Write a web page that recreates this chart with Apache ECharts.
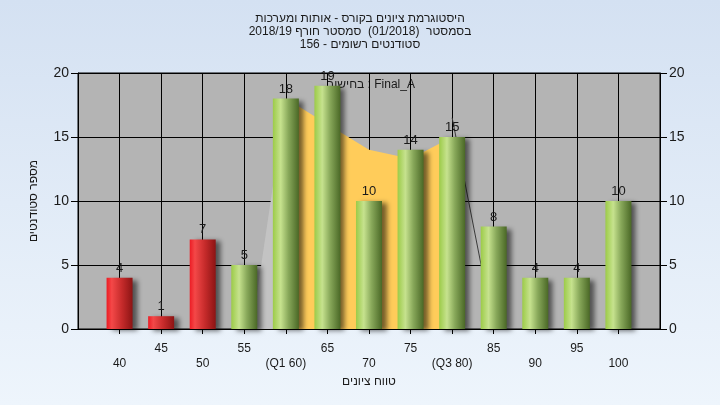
<!DOCTYPE html>
<html>
<head>
<meta charset="utf-8">
<script src="https://cdn.jsdelivr.net/npm/echarts@6/dist/echarts.min.js"></script>
<style>html,body{margin:0;padding:0;}#c{width:720px;height:405px;}</style>
</head>
<body>
<div id="c"></div>
<script>
// ---- data ----
var grades = [40, 45, 50, 55, 60, 65, 70, 75, 80, 85, 90, 95, 100];
var counts = [4, 1, 7, 5, 18, 19, 10, 14, 15, 8, 4, 4, 10];
var failing = [true, true, true, false, false, false, false, false, false, false, false, false, false];
var tickLabels = {40:'40',45:'45',50:'50',55:'55',60:'(Q1 60)',65:'65',70:'70',75:'75',80:'(Q3 80)',85:'85',90:'90',95:'95',100:'100'};
var leftShadeX = [55.9, 60];
var leftShadeY = [0, 18];
var iqrX = [60, 65, 70, 75, 80];
var iqrY = [18, 16, 14, 13.3, 15];
var tailX = [80, 85];
var tailY = [16.5, 0];
var titleLines = ['היסטוגרמת ציונים בקורס - אותות ומערכות', 'בסמסטר  (01/2018)  סמסטר חורף 2018/19', 'סטודנטים רשומים - 156'];
var legendText = 'בחישוב : Final_A';
var xName = 'טווח ציונים';
var yName = 'מספר סטודנטים';

var font = "'Liberation Sans', Arial, sans-serif";
function pairs(xs, ys){ return xs.map(function(x,i){ return [x, ys[i]]; }); }

var greenGrad = {type:'linear',x:0,y:0,x2:1,y2:0,colorStops:[
  {offset:0,color:'#9ccb48'},{offset:0.3,color:'#c6e28e'},{offset:0.6,color:'#88a85a'},{offset:1,color:'#4a6826'}]};
var redGrad = {type:'linear',x:0,y:0,x2:1,y2:0,colorStops:[
  {offset:0,color:'#ec1c24'},{offset:0.2,color:'#f44848'},{offset:0.6,color:'#c42a2a'},{offset:1,color:'#8c1414'}]};

var barData = grades.map(function(g,i){
  return {value:[g, counts[i]], itemStyle:{color: failing[i] ? redGrad : greenGrad}};
});

var chart = echarts.init(document.getElementById('c'), null, {renderer:'canvas'});
chart.setOption({
  animation:false,
  backgroundColor:{type:'linear',x:0,y:0,x2:0,y2:1,colorStops:[{offset:0,color:'#d4e1f2'},{offset:1,color:'#eef5fc'}]},
  textStyle:{fontFamily:font},
  title:{
    text: titleLines.join('\n'),
    left:'center', top:7,
    textStyle:{fontFamily:font, fontSize:12, fontWeight:'normal', color:'#1a1a1a', lineHeight:13}
  },
  graphic:[{type:'text', left:327, top:79, style:{text:legendText, font:"12px "+font, fill:'#1a1a1a'}}],
  grid:{left:78, right:60, top:73, bottom:76, show:true, backgroundColor:'#b4b4b4', borderColor:'#000', borderWidth:1},
  xAxis:{
    type:'value', min:35, max:105, interval:5,
    name:xName, nameLocation:'middle', nameGap:46,
    nameTextStyle:{fontFamily:font, fontSize:12, color:'#1a1a1a'},
    axisLine:{show:true, onZero:false, lineStyle:{color:'#000'}},
    axisTick:{show:true, length:5, lineStyle:{color:'#000'}},
    splitLine:{show:true, lineStyle:{color:'#000', width:1}},
    axisLabel:{
      margin:12, fontSize:12, color:'#1a1a1a', lineHeight:15, fontFamily:font,
      showMinLabel:false, showMaxLabel:false,
      formatter:function(v){ var t = tickLabels[v]; if(t===undefined) return ''; return (v%10===0) ? '\n'+t : t; }
    }
  },
  yAxis:[{
    type:'value', min:0, max:20, interval:5, position:'left',
    name:yName, nameLocation:'middle', nameGap:38, nameRotate:90,
    nameTextStyle:{fontFamily:font, fontSize:12, color:'#1a1a1a'},
    axisLine:{show:true, lineStyle:{color:'#000'}},
    axisTick:{show:true, length:7, lineStyle:{color:'#000'}},
    splitLine:{show:true, lineStyle:{color:'#000', width:1}},
    axisLabel:{fontSize:14, color:'#1a1a1a', margin:9, fontFamily:font}
  },{
    type:'value', min:0, max:20, interval:5, position:'right',
    axisLine:{show:true, lineStyle:{color:'#000'}},
    axisTick:{show:true, length:7, lineStyle:{color:'#000'}},
    splitLine:{show:false},
    axisLabel:{fontSize:14, color:'#1a1a1a', margin:9, fontFamily:font}
  }],
  series:[
    {type:'line', data:pairs(leftShadeX, leftShadeY), symbol:'none', lineStyle:{width:0}, areaStyle:{color:'#c3c3c3', opacity:1}, z:1, silent:true},
    {type:'line', data:pairs(iqrX, iqrY), symbol:'none', lineStyle:{width:0}, areaStyle:{color:'#ffcc5a', opacity:1}, z:1, silent:true},
    {type:'line', data:pairs(tailX, tailY), symbol:'none', lineStyle:{width:1, color:'#3a3a3a'}, z:1, silent:true},
    {type:'bar', data:barData, barWidth:26, z:3,
      itemStyle:{shadowColor:'rgba(0,0,0,0.55)', shadowBlur:5, shadowOffsetX:5, shadowOffsetY:2},
      label:{show:true, position:'top', distance:3, fontSize:13, color:'#1a1a1a', fontFamily:font,
        formatter:function(p){ return p.value[1]; }}
    }
  ]
});
</script>
</body>
</html>
